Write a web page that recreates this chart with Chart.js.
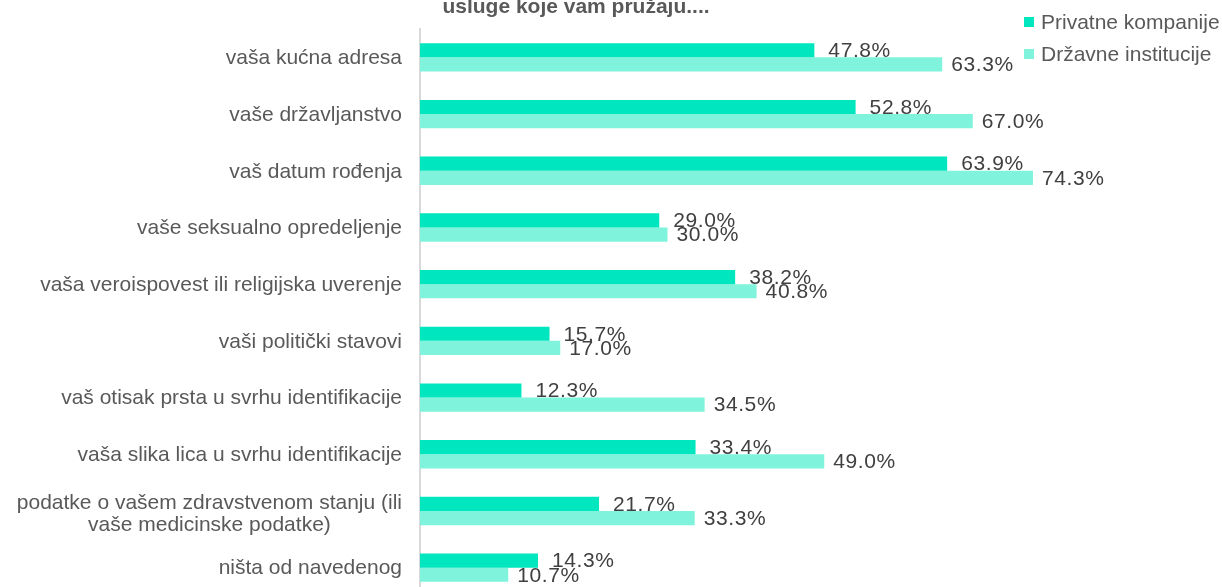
<!DOCTYPE html>
<html>
<head>
<meta charset="utf-8">
<script src="https://cdn.jsdelivr.net/npm/chart.js@4.4.1/dist/chart.umd.min.js"></script>
<style>
  html, body { margin: 0; padding: 0; background: #fff; overflow: hidden; }
  #wrap { position: relative; width: 1222px; height: 587px; overflow: hidden; }
  canvas { position: absolute; left: 0; top: 0; }
</style>
</head>
<body>
<div id="wrap"><canvas id="chart" width="1222" height="620"></canvas></div>
<script>
// podaci sa slike
const categories = [
    'vaša kućna adresa',
    'vaše državljanstvo',
    'vaš datum rođenja',
    'vaše seksualno opredeljenje',
    'vaša veroispovest ili religijska uverenje',
    'vaši politički stavovi',
    'vaš otisak prsta u svrhu identifikacije',
    'vaša slika lica u svrhu identifikacije',
    ['podatke o vašem zdravstvenom stanju (ili', 'vaše medicinske podatke)'],
    'ništa od navedenog'
];
const privatneKompanije = [47.8, 52.8, 63.9, 29.0, 38.2, 15.7, 12.3, 33.4, 21.7, 14.3];
const drzavneInstitucije = [63.3, 67.0, 74.3, 30.0, 40.8, 17.0, 34.5, 49.0, 33.3, 10.7];
const seriesNames = ['Privatne kompanije', 'Državne institucije'];
const titleText = 'usluge koje vam pružaju....';

const FONT = '"Liberation Sans", Arial, sans-serif';
const TEXT_GRAY = '#595959';

// naslov (gornji deo je odsečen kao na slici)
const titlePlugin = {
    id: 'titlePlugin',
    afterDraw(chart) {
        const ctx = chart.ctx;
        ctx.save();
        ctx.font = 'bold 21px ' + FONT;
        ctx.fillStyle = TEXT_GRAY;
        ctx.textAlign = 'center';
        ctx.textBaseline = 'alphabetic';
        ctx.fillText(titleText, 576, 13);
        ctx.restore();
    }
};

// legenda gore desno
const legendPlugin = {
    id: 'legendPlugin',
    afterDraw(chart) {
        const ctx = chart.ctx;
        ctx.save();
        ctx.font = '21px ' + FONT;
        ctx.textBaseline = 'middle';
        chart.data.datasets.forEach((ds, i) => {
            const y = 22 + i * 32;
            ctx.fillStyle = ds.backgroundColor;
            ctx.fillRect(1024, y - 5, 10, 10);
            ctx.fillStyle = TEXT_GRAY;
            ctx.fillText(ds.label, 1041, y + 1);
        });
        ctx.restore();
    }
};

// oznake kategorija (centrirane kad su u dva reda)
const categoryLabels = {
    id: 'categoryLabels',
    afterDraw(chart) {
        const ctx = chart.ctx;
        const scale = chart.scales.y;
        ctx.save();
        ctx.font = '21px ' + FONT;
        ctx.fillStyle = TEXT_GRAY;
        ctx.textBaseline = 'middle';
        chart.data.labels.forEach((label, i) => {
            const y = scale.getPixelForTick(i);
            const right = scale.right - 18;
            if (Array.isArray(label)) {
                const widths = label.map(l => ctx.measureText(l).width);
                const maxW = Math.max(...widths);
                const center = right - maxW / 2;
                ctx.textAlign = 'center';
                label.forEach((l, j) => {
                    ctx.fillText(l, center, y - 8 + j * 22);
                });
            } else {
                ctx.textAlign = 'right';
                ctx.fillText(label, right, y + 1);
            }
        });
        ctx.restore();
    }
};

// procenti pored stubića
const valueLabels = {
    id: 'valueLabels',
    afterDatasetsDraw(chart) {
        const ctx = chart.ctx;
        ctx.save();
        ctx.font = '21px ' + FONT;
        ctx.fillStyle = '#404040';
        ctx.textAlign = 'left';
        ctx.textBaseline = 'middle';
        if ('letterSpacing' in ctx) ctx.letterSpacing = '0.6px';
        chart.data.datasets.forEach((ds, di) => {
            const meta = chart.getDatasetMeta(di);
            const offset = di === 0 ? 14 : 9;
            meta.data.forEach((bar, i) => {
                ctx.fillText(ds.data[i].toFixed(1) + '%', bar.x + offset, bar.y + 1);
            });
        });
        ctx.restore();
    }
};

new Chart(document.getElementById('chart'), {
    type: 'bar',
    data: {
        labels: categories,
        datasets: [
            {
                label: seriesNames[0],
                data: privatneKompanije,
                backgroundColor: '#00E6BE',
                borderWidth: 0
            },
            {
                label: seriesNames[1],
                data: drzavneInstitucije,
                backgroundColor: '#80F3DD',
                borderWidth: 0
            }
        ]
    },
    options: {
        indexAxis: 'y',
        responsive: false,
        animation: false,
        devicePixelRatio: 1,
        layout: {
            padding: { top: 29, bottom: 24, left: 0, right: 10 }
        },
        datasets: {
            bar: {
                categoryPercentage: 0.5,
                barPercentage: 1.0
            }
        },
        scales: {
            x: {
                display: false,
                min: 0,
                max: 96
            },
            y: {
                grid: { display: false, drawTicks: false },
                border: { display: true, color: '#D9D9D9', width: 2 },
                ticks: { display: false },
                afterFit(scale) {
                    scale.width = 420;
                }
            }
        },
        plugins: {
            legend: { display: false },
            title: { display: false },
            tooltip: { enabled: false }
        }
    },
    plugins: [titlePlugin, legendPlugin, categoryLabels, valueLabels]
});
</script>
</body>
</html>
